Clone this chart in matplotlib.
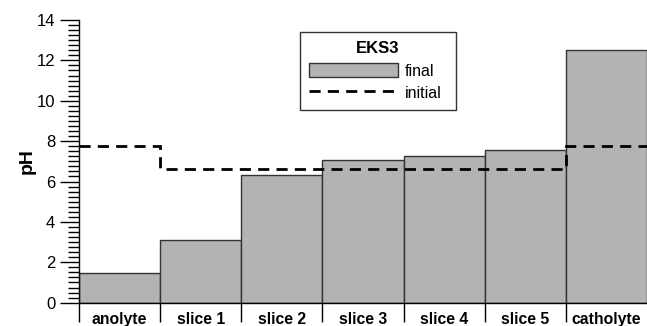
import numpy as np
import matplotlib.pyplot as plt
from matplotlib.ticker import MultipleLocator, FixedLocator

plt.rcParams['font.family'] = ['Liberation Sans', 'DejaVu Sans']

# pH per compartment, final state (bars) and initial state (dashed steps)
compartments = ['anolyte', 'slice 1', 'slice 2', 'slice 3', 'slice 4', 'slice 5', 'catholyte']
ph_final = [1.45, 3.1, 6.3, 7.05, 7.25, 7.55, 12.5]
ph_initial = [7.75, 6.6, 6.6, 6.6, 6.6, 6.6, 7.75]

x = np.arange(len(compartments))
edges = np.arange(len(compartments) + 1) - 0.5

fig = plt.figure(figsize=(6.47, 3.26), dpi=100)
ax = fig.add_axes([0.122, 0.0715, 0.878, 0.8672])

bars = ax.bar(x, ph_final, width=1.0, color='#b3b3b3', edgecolor='#333333',
              linewidth=1.0, label='final', zorder=2)
stairs = ax.stairs(ph_initial, edges, baseline=None, color='black', linewidth=2.0,
                   linestyle=(0, (4, 2.6)), label='initial', zorder=3)

ax.set_xlim(edges[0], edges[-1])
ax.set_ylim(0, 14)

for side in ['top', 'right']:
    ax.spines[side].set_visible(False)
ax.spines['left'].set_linewidth(1.0)
ax.spines['bottom'].set_linewidth(1.0)

# y axis: major every 2, minor every 0.25
ax.yaxis.set_major_locator(MultipleLocator(2))
ax.yaxis.set_minor_locator(MultipleLocator(0.25))
ax.tick_params(axis='y', which='major', direction='out', length=14, width=1.0,
               labelsize=12, pad=3)
ax.tick_params(axis='y', which='minor', direction='out', length=8, width=1.0)

# x axis: separator ticks at compartment boundaries, names centred between them
ax.xaxis.set_major_locator(FixedLocator(edges[:-1]))
ax.xaxis.set_minor_locator(FixedLocator(x))
ax.set_xticklabels([], minor=False)
ax.set_xticks(x, compartments, minor=True, fontweight='bold', fontsize=11.3)
ax.tick_params(axis='x', which='major', direction='out', length=14, width=1.0)
ax.tick_params(axis='x', which='minor', length=0, pad=6.5)

ax.set_ylabel('pH', fontsize=14, fontweight='bold', labelpad=1)

# legend box stretched to a fixed width in figure coordinates
leg = fig.legend(handles=[bars, stairs], labels=['final', 'initial'],
                 title='EKS3', loc='upper left',
                 bbox_to_anchor=(300 / 647, 1 - 108 / 326, 156 / 647, 76 / 326),
                 mode='expand',
                 fontsize=11.5, title_fontproperties={'weight': 'bold', 'size': 12},
                 frameon=True, fancybox=False, edgecolor='black',
                 handlelength=5.6, handleheight=1.0, handletextpad=0.4,
                 borderpad=0.55, labelspacing=0.45, borderaxespad=0)
leg.get_frame().set_linewidth(1.0)

fig.savefig('out.png', dpi=100)
